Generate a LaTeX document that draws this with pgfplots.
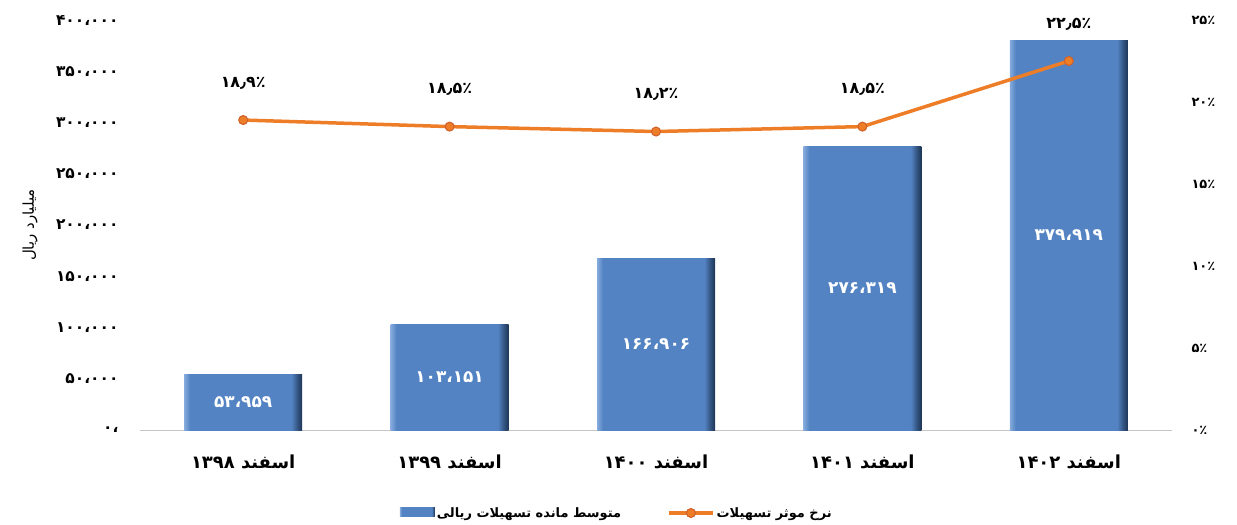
\documentclass[border=0pt]{standalone}
\usepackage{pgfplots}
\usepackage{pgfplotstable}
\pgfplotsset{compat=1.18}
\usepackage{fontspec}
\setmainfont{DejaVu Sans}
\newfontfamily\fa[Script=Arabic]{DejaVu Sans}
\TeXXeTstate=1

\definecolor{barblue}{HTML}{5383C3}
\definecolor{barlight}{HTML}{86ABDD}
\definecolor{bardark}{HTML}{1E3555}
\definecolor{rateorange}{HTML}{EE7D28}
\definecolor{markedge}{HTML}{D0602A}

% bevel-like horizontal shading for the bars
\pgfdeclarehorizontalshading{bevel}{100bp}{color(0bp)=(barlight); color(25bp)=(barlight);
  color(27.5bp)=(barblue); color(70.5bp)=(barblue); color(73bp)=(bardark!60!barblue); color(75bp)=(bardark); color(100bp)=(bardark)}

\pgfplotsset{
  rate legend/.style={legend image code/.code={\draw[mark repeat=2, mark phase=2, ##1] plot coordinates {(0bp,0bp)(22bp,0bp)(44bp,0bp)};}},
  bar legend/.style={legend image code/.code={\draw[shading=bevel, draw=none] (0bp,-4bp) rectangle (35bp,5bp);}},
  onebar/.style={ybar, bar width=118bp, draw=none, shading=bevel},
}

\pgfplotstableread{
x v lab
0 53959 ۵۳،۹۵۹
1 103151 ۱۰۳،۱۵۱
2 166906 ۱۶۶،۹۰۶
3 276319 ۲۷۶،۳۱۹
4 379919 ۳۷۹،۹۱۹
}\bardata

\pgfplotstableread{
x r lab
0 18.9 ۱۸٫۹٪
1 18.5 ۱۸٫۵٪
2 18.2 ۱۸٫۲٪
3 18.5 ۱۸٫۵٪
4 22.5 ۲۲٫۵٪
}\ratedata

\begin{document}
\begin{tikzpicture}
\pgfplotsset{
  every axis/.append style={
    scale only axis, width=1032bp, height=410bp,
    xmin=-0.5, xmax=4.5,
    major tick length=0pt,
  },
}
\begin{axis}[
    name=ax,
    ymin=0, ymax=400000,
    scaled y ticks=false,
    separate axis lines,
    axis x line*=bottom, axis y line*=left,
    x axis line style={draw=gray!45, line width=1bp, -},
    y axis line style={draw=none},
    xtick={0,...,4},
    xticklabels={\beginR اسفند ۱۳۹۸\endR,\beginR اسفند ۱۳۹۹\endR,\beginR اسفند ۱۴۰۰\endR,\beginR اسفند ۱۴۰۱\endR,\beginR اسفند ۱۴۰۲\endR},
    xticklabel style={font=\fa\bfseries\fontsize{18}{20}\selectfont, anchor=center, yshift=-32bp},
    ytick={0,50000,...,400000},
    yticklabels={،۰,۵۰،۰۰۰,۱۰۰،۰۰۰,۱۵۰،۰۰۰,۲۰۰،۰۰۰,۲۵۰،۰۰۰,۳۰۰،۰۰۰,۳۵۰،۰۰۰,۴۰۰،۰۰۰},
    yticklabel style={font=\fa\bfseries\fontsize{15.5}{17}\selectfont, xshift=-18bp},
    ylabel={\beginR میلیارد ریال\endR},
    ylabel style={font=\fa\fontsize{15}{17}\selectfont, at={(axis description cs:-0.1066,0.5)}, anchor=center},
]
% one plot per bar, so that each bar gets its own shading
\addplot[onebar] coordinates {(0,53959)};
\addplot[onebar] coordinates {(1,103151)};
\addplot[onebar] coordinates {(2,166906)};
\addplot[onebar] coordinates {(3,276319)};
\addplot[onebar] coordinates {(4,379919)};
\addplot[draw=none, mark=none, nodes near coords, point meta=explicit symbolic,
    every node near coord/.append style={anchor=center, text=white, font=\fa\bfseries\fontsize{17}{19}\selectfont}]
    table[x=x, y expr=\thisrow{v}/2, meta=lab] {\bardata};
\end{axis}

\begin{axis}[
    ymin=0, ymax=25,
    axis x line=none,
    axis y line*=right,
    y axis line style={draw=none},
    ytick={0,5,...,25},
    yticklabels={۰٪,۵٪,۱۰٪,۱۵٪,۲۰٪,۲۵٪},
    yticklabel style={font=\fa\bfseries\fontsize{13}{15}\selectfont, xshift=16bp},
    legend columns=2,
    legend style={at={(0.462,-0.2024)}, anchor=center, draw=none,
      font=\fa\bfseries\fontsize{13}{15}\selectfont,
      /tikz/every even column/.append style={column sep=44bp}},
]
\addlegendimage{bar legend}
\addlegendentry{\beginR متوسط مانده تسهیلات ریالی\endR}
\addplot[color=rateorange, line width=3.5bp, mark=*, mark size=4.5bp,
    mark options={fill=rateorange, draw=markedge, line width=1bp},
    rate legend,
    nodes near coords, point meta=explicit symbolic,
    every node near coord/.append style={anchor=center, yshift=37bp, text=black, font=\fa\bfseries\fontsize{16}{18}\selectfont}]
    table[x=x, y=r, meta=lab] {\ratedata};
\addlegendentry{\beginR نرخ موثر تسهیلات\endR}
\end{axis}
\pgfresetboundingbox
\path ([shift={(-140bp,-94bp)}]ax.south west) rectangle ([shift={(65bp,20bp)}]ax.north east);
\end{tikzpicture}
\end{document}
